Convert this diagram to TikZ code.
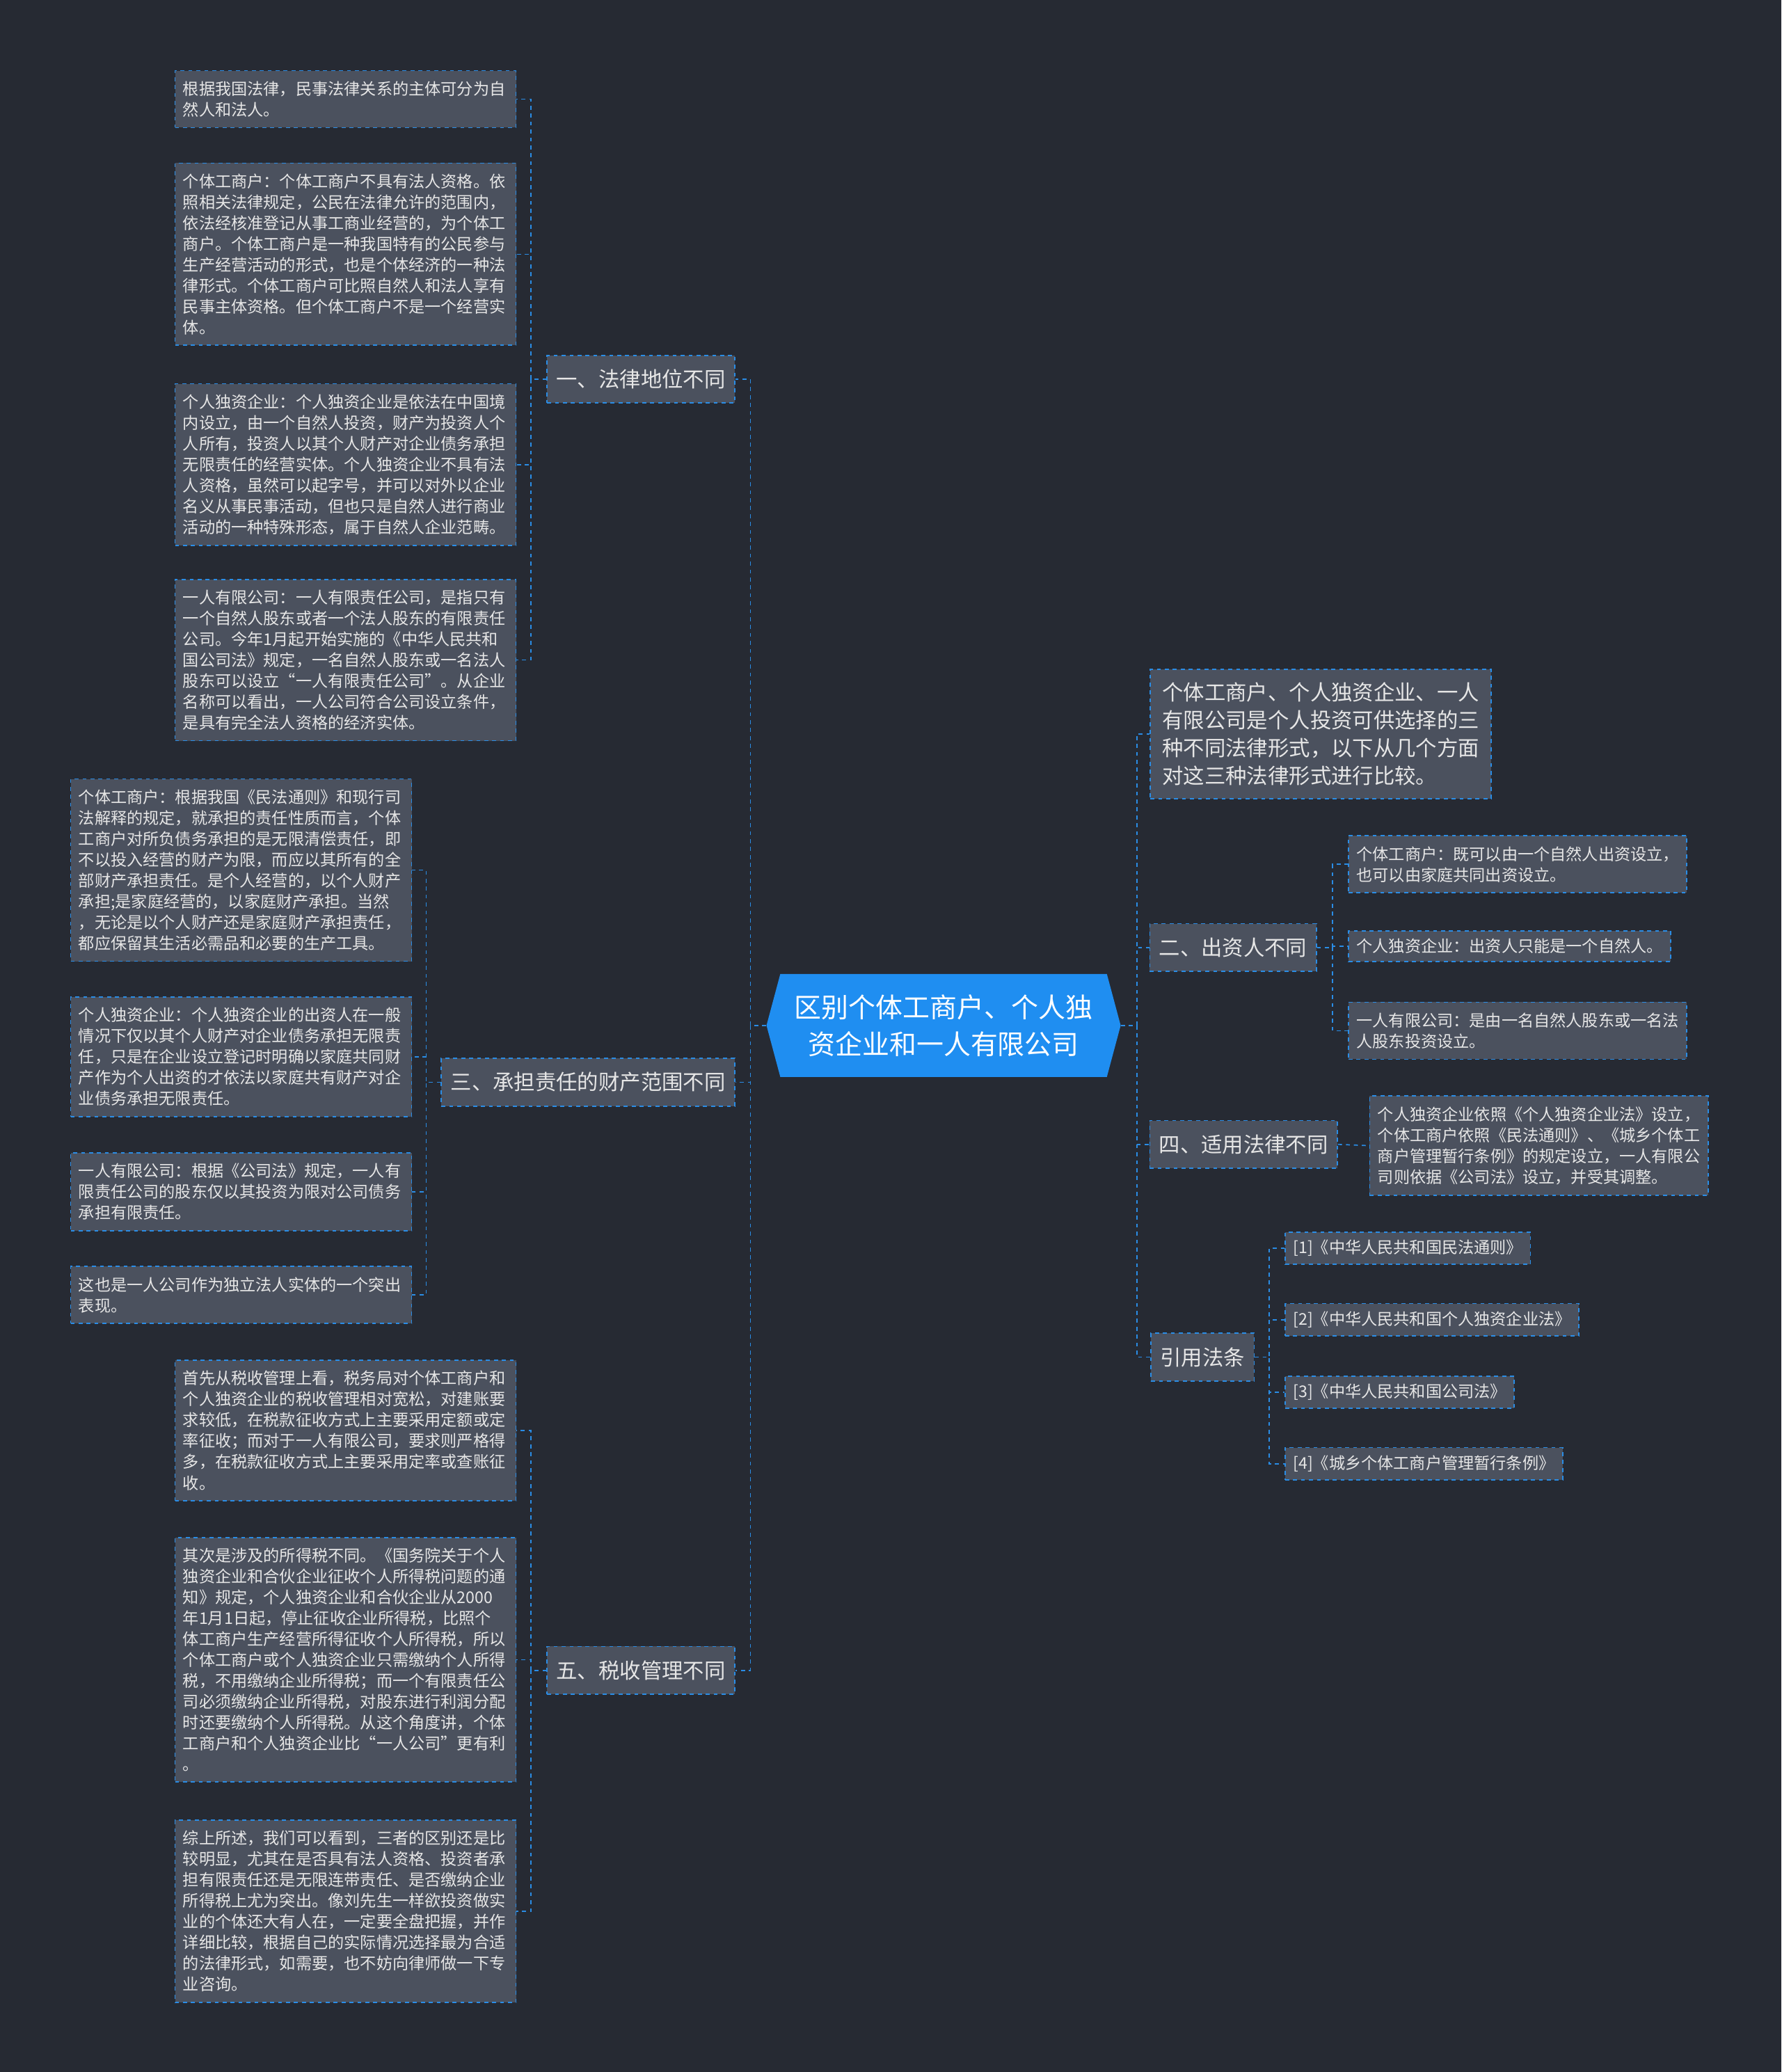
\documentclass[tikz,border=0pt]{standalone}
\usepackage{fontspec}
\setmainfont{Noto Sans CJK SC}
\usetikzlibrary{shapes.symbols}
\definecolor{bgc}{HTML}{262A33}
\definecolor{boxc}{HTML}{4B515E}
\definecolor{linec}{HTML}{2A8DE6}
\definecolor{txtc}{HTML}{E6E6E6}
\definecolor{rootc}{HTML}{1F8EF1}
\begin{document}
\begin{tikzpicture}[x=1pt,y=-1pt]

\tikzstyle{link} = [draw=linec, dashed, line width=0.9pt]
\tikzstyle{leaf} = [rectangle, draw=linec, dashed, line width=0.9pt, fill=boxc, text=txtc, align=left, anchor=north west, inner xsep=6pt, inner ysep=8pt, font=\fontsize{12.2}{15.8}\selectfont]
\tikzstyle{br} = [rectangle, draw=linec, dashed, line width=0.9pt, fill=boxc, text=txtc, minimum height=36pt, inner xsep=7pt, font=\fontsize{16}{20}\selectfont]

\fill[bgc] (0,0) rectangle (1348,1568);

\node (root) [signal, signal to=west and east, signal pointer angle=150, fill=rootc, text=white, align=center, minimum width=268pt, minimum height=78pt, font=\fontsize{20.5}{28}\selectfont] at (714,776) {区别个体工商户、个人独\\资企业和一人有限公司};

% left side
\node (law) [br] at (485,287) {一、法律地位不同};
\node (law1) [leaf, text width=246pt] at (132,53) {根据我国法律，民事法律关系的主体可分为自\\然人和法人。};
\node (law2) [leaf, text width=246pt] at (132,123) {个体工商户：个体工商户不具有法人资格。依\\照相关法律规定，公民在法律允许的范围内，\\依法经核准登记从事工商业经营的，为个体工\\商户。个体工商户是一种我国特有的公民参与\\生产经营活动的形式，也是个体经济的一种法\\律形式。个体工商户可比照自然人和法人享有\\民事主体资格。但个体工商户不是一个经营实\\体。};
\node (law3) [leaf, text width=246pt] at (132,290) {个人独资企业：个人独资企业是依法在中国境\\内设立，由一个自然人投资，财产为投资人个\\人所有，投资人以其个人财产对企业债务承担\\无限责任的经营实体。个人独资企业不具有法\\人资格，虽然可以起字号，并可以对外以企业\\名义从事民事活动，但也只是自然人进行商业\\活动的一种特殊形态，属于自然人企业范畴。};
\node (law4) [leaf, text width=246pt] at (132,438) {一人有限公司：一人有限责任公司，是指只有\\一个自然人股东或者一个法人股东的有限责任\\公司。今年1月起开始实施的《中华人民共和\\国公司法》规定，一名自然人股东或一名法人\\股东可以设立“一人有限责任公司”。从企业\\名称可以看出，一人公司符合公司设立条件，\\是具有完全法人资格的经济实体。};

\node (debt) [br] at (445,819) {三、承担责任的财产范围不同};
\node (debt1) [leaf, text width=246pt] at (53,589) {个体工商户：根据我国《民法通则》和现行司\\法解释的规定，就承担的责任性质而言，个体\\工商户对所负债务承担的是无限清偿责任，即\\不以投入经营的财产为限，而应以其所有的全\\部财产承担责任。是个人经营的，以个人财产\\承担;是家庭经营的，以家庭财产承担。当然\\，无论是以个人财产还是家庭财产承担责任，\\都应保留其生活必需品和必要的生产工具。};
\node (debt2) [leaf, text width=246pt] at (53,754) {个人独资企业：个人独资企业的出资人在一般\\情况下仅以其个人财产对企业债务承担无限责\\任，只是在企业设立登记时明确以家庭共同财\\产作为个人出资的才依法以家庭共有财产对企\\业债务承担无限责任。};
\node (debt3) [leaf, text width=246pt] at (53,872) {一人有限公司：根据《公司法》规定，一人有\\限责任公司的股东仅以其投资为限对公司债务\\承担有限责任。};
\node (debt4) [leaf, text width=246pt] at (53,958) {这也是一人公司作为独立法人实体的一个突出\\表现。};

\node (tax) [br] at (485,1264) {五、税收管理不同};
\node (tax1) [leaf, text width=246pt] at (132,1029) {首先从税收管理上看，税务局对个体工商户和\\个人独资企业的税收管理相对宽松，对建账要\\求较低，在税款征收方式上主要采用定额或定\\率征收；而对于一人有限公司，要求则严格得\\多，在税款征收方式上主要采用定率或查账征\\收。};
\node (tax2) [leaf, text width=246pt] at (132,1163) {其次是涉及的所得税不同。《国务院关于个人\\独资企业和合伙企业征收个人所得税问题的通\\知》规定，个人独资企业和合伙企业从2000\\年1月1日起，停止征收企业所得税，比照个\\体工商户生产经营所得征收个人所得税，所以\\个体工商户或个人独资企业只需缴纳个人所得\\税，不用缴纳企业所得税；而一个有限责任公\\司必须缴纳企业所得税，对股东进行利润分配\\时还要缴纳个人所得税。从这个角度讲，个体\\工商户和个人独资企业比“一人公司”更有利\\。};
\node (tax3) [leaf, text width=246pt] at (132,1377) {综上所述，我们可以看到，三者的区别还是比\\较明显，尤其在是否具有法人资格、投资者承\\担有限责任还是无限连带责任、是否缴纳企业\\所得税上尤为突出。像刘先生一样欲投资做实\\业的个体还大有人在，一定要全盘把握，并作\\详细比较，根据自己的实际情况选择最为合适\\的法律形式，如需要，也不妨向律师做一下专\\业咨询。};

% right side
\node (intro) [rectangle, draw=linec, dashed, line width=0.9pt, fill=boxc, text=txtc, align=left, anchor=north west, inner xsep=9pt, inner ysep=10pt, font=\fontsize{16}{21}\selectfont] at (870,506) {个体工商户、个人独资企业、一人\\有限公司是个人投资可供选择的三\\种不同法律形式，以下从几个方面\\对这三种法律形式进行比较。};

\node (inv) [br] at (933,717) {二、出资人不同};
\node (inv1) [leaf] at (1020,632) {个体工商户：既可以由一个自然人出资设立，\\也可以由家庭共同出资设立。};
\node (inv2) [leaf, inner ysep=6pt] at (1020,704) {个人独资企业：出资人只能是一个自然人。};
\node (inv3) [leaf] at (1020,758) {一人有限公司：是由一名自然人股东或一名法\\人股东投资设立。};

\node (code) [br] at (941,866) {四、适用法律不同};
\node (code1) [leaf] at (1036,829) {个人独资企业依照《个人独资企业法》设立，\\个体工商户依照《民法通则》、《城乡个体工\\商户管理暂行条例》的规定设立，一人有限公\\司则依据《公司法》设立，并受其调整。};

\node (ref) [br] at (910,1027) {引用法条};
\node (ref1) [leaf, inner ysep=6pt] at (972,932) {[1]《中华人民共和国民法通则》};
\node (ref2) [leaf, inner ysep=6pt] at (972,986) {[2]《中华人民共和国个人独资企业法》};
\node (ref3) [leaf, inner ysep=6pt] at (972,1041) {[3]《中华人民共和国公司法》};
\node (ref4) [leaf, inner ysep=6pt] at (972,1095) {[4]《城乡个体工商户管理暂行条例》};

\foreach \b in {law,debt,tax}
  \draw[link] (root.west) -- ++(-12,0) |- (\b.east);
\foreach \b in {intro,inv,code,ref}
  \draw[link] (root.east) -- ++(12,0) |- (\b.west);
\foreach \l in {law1,law2,law3,law4}
  \draw[link] (law.west) -- ++(-12,0) |- (\l.east);
\foreach \l in {debt1,debt2,debt3,debt4}
  \draw[link] (debt.west) -- ++(-11,0) |- (\l.east);
\foreach \l in {tax1,tax2,tax3}
  \draw[link] (tax.west) -- ++(-12,0) |- (\l.east);
\foreach \l in {inv1,inv2,inv3}
  \draw[link] (inv.east) -- ++(12,0) |- (\l.west);
\draw[link] (code.east) -- (code1.west);
\foreach \l in {ref1,ref2,ref3,ref4}
  \draw[link] (ref.east) -- ++(11,0) |- (\l.west);
\end{tikzpicture}
\end{document}
